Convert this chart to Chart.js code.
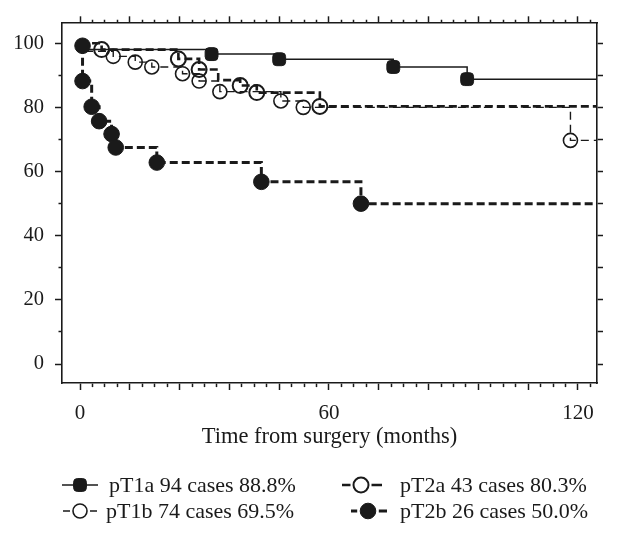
<!DOCTYPE html>
<html>
<head>
<meta charset="utf-8">
<script src="https://cdn.jsdelivr.net/npm/chart.js@4.4.1/dist/chart.umd.min.js"></script>
<style>
  html, body { margin: 0; padding: 0; background: #fff; }
  #wrap { width: 618px; height: 537px; }
</style>
</head>
<body>
<div id="wrap"><canvas id="km"></canvas></div>
<script>
// survival (%), time in months from surgery
// marks: 1 = a marker is drawn at that step
const pT1aMonths   = [0, 0.5, 31.7, 48.0, 75.5, 93.3, 124.6];
const pT1aSurvival = [100, 98.0, 96.6, 95.0, 92.6, 88.8, 88.8];
const pT1aMarks    = [0, 0, 1, 1, 1, 1, 0];

const pT1bMonths   = [0, 1.5, 8.0, 13.3, 17.3, 24.7, 28.7, 33.7, 48.4, 53.8, 118.2, 124.6];
const pT1bSurvival = [100, 97.5, 95.9, 94.1, 92.6, 90.5, 88.2, 84.9, 82.0, 80.0, 69.7, 69.7];
const pT1bMarks    = [0, 0, 1, 1, 1, 1, 1, 1, 1, 1, 1, 0];

const pT2aMonths   = [0, 5.2, 23.7, 28.7, 33.3, 38.6, 42.6, 57.8, 124.6];
const pT2aSurvival = [100, 98.0, 95.1, 91.8, 88.5, 86.8, 84.6, 80.3, 80.3];
const pT2aMarks    = [0, 1, 1, 1, 0, 1, 1, 1, 0];

const pT2bMonths   = [0.6, 0.6, 2.8, 4.6, 7.6, 8.6, 18.5, 43.7, 67.7, 124.6];
const pT2bSurvival = [99.2, 88.2, 80.2, 75.7, 71.7, 67.5, 62.8, 56.8, 50.0, 50.0];
const pT2bMarks    = [1, 1, 1, 1, 1, 1, 1, 1, 1, 0];

const seriesLabels = [
    "pT1a 94 cases 88.8%",
    "pT1b 74 cases 69.5%",
    "pT2a 43 cases 80.3%",
    "pT2b 26 cases 50.0%",
];

const xTickLabels = [0, 60, 120];
const xMajorStep = 12;
const xMinorStep = 3;
const yTickLabels = [0, 20, 40, 60, 80, 100];
const yMinorStep = 10;

const ink = "#1a1a1a";
const serif = '"Liberation Serif", "Times New Roman", serif';
const xRange = { min: -4.35, max: 124.6 };
const yRange = { min: -5.9, max: 106.2 };

function toPoints(months, survival) {
    return months.map((m, i) => ({ x: m, y: survival[i] }));
}

function markRadius(marks, size) {
    return (ctx) => (marks[ctx.dataIndex] ? size : 0);
}

function xTicks(scale) {
    const ticks = [];
    for (let v = 0; v <= xRange.max - 1; v += xMinorStep) ticks.push({ value: v });
    scale.ticks = ticks;
}

function yTicks(scale) {
    const ticks = [];
    for (let v = 0; v <= 100; v += yMinorStep) ticks.push({ value: v });
    scale.ticks = ticks;
}

const isXMajor = (ctx) => ctx.tick && ctx.tick.value % xMajorStep === 0;
const isYMajor = (ctx) => ctx.tick && yTickLabels.includes(ctx.tick.value);

// legend drawn by hand: short line with the marker, two columns
const legendSpots = [
    { ds: 0, y: 485, x0: 62, mx: 80, x1: 98, tx: 109 },
    { ds: 1, y: 511, x0: 63, mx: 80, x1: 97, tx: 106 },
    { ds: 2, y: 485, x0: 342, mx: 361, x1: 382, tx: 400 },
    { ds: 3, y: 511, x0: 351, mx: 368, x1: 387, tx: 400 },
];

const legendPlugin = {
    id: "kmLegend",
    afterDraw(chart) {
        const ctx = chart.ctx;
        ctx.save();
        legendSpots.forEach((spot) => {
            const ds = chart.data.datasets[spot.ds];
            ctx.strokeStyle = ink;
            ctx.lineWidth = ds.borderWidth;
            ctx.setLineDash([]);
            ctx.beginPath();
            if (ds.borderDash && ds.borderDash.length) {
                const gap = ds.markSize + 3;
                ctx.moveTo(spot.x0, spot.y);
                ctx.lineTo(spot.mx - gap, spot.y);
                ctx.moveTo(spot.mx + gap, spot.y);
                ctx.lineTo(spot.x1, spot.y);
            } else {
                ctx.moveTo(spot.x0, spot.y);
                ctx.lineTo(spot.x1, spot.y);
            }
            ctx.stroke();
            ctx.fillStyle = ds.pointBackgroundColor;
            ctx.strokeStyle = ink;
            ctx.lineWidth = ds.pointBorderWidth;
            Chart.helpers.drawPoint(ctx, {
                pointStyle: ds.pointStyle,
                radius: ds.markSize,
                borderWidth: ds.pointBorderWidth,
                rotation: 0,
            }, spot.mx, spot.y);

            ctx.fillStyle = ink;
            ctx.font = "22px " + serif;
            ctx.textAlign = "left";
            ctx.textBaseline = "middle";
            ctx.fillText(ds.label, spot.tx, spot.y + 1);
        });
        ctx.restore();
    },
};

const whiteBg = {
    id: "whiteBg",
    beforeDraw(chart) {
        const ctx = chart.ctx;
        ctx.save();
        ctx.fillStyle = "#fff";
        ctx.fillRect(0, 0, chart.width, chart.height);
        ctx.restore();
    },
};

const datasets = [
    {
        label: seriesLabels[0],
        data: toPoints(pT1aMonths, pT1aSurvival),
        borderColor: ink,
        borderWidth: 1.5,
        borderDash: [],
        pointStyle: "rectRounded",
        markSize: 7.5,
        pointRadius: markRadius(pT1aMarks, 7.5),
        pointBackgroundColor: ink,
        pointBorderColor: ink,
        pointBorderWidth: 1,
        order: 3,
    },
    {
        label: seriesLabels[1],
        data: toPoints(pT1bMonths, pT1bSurvival),
        borderColor: ink,
        borderWidth: 1.4,
        borderDash: [8, 5],
        pointStyle: "circle",
        markSize: 7,
        pointRadius: markRadius(pT1bMarks, 7),
        pointBackgroundColor: "rgba(0,0,0,0)",
        pointBorderColor: ink,
        pointBorderWidth: 1.6,
        order: 2,
    },
    {
        label: seriesLabels[2],
        data: toPoints(pT2aMonths, pT2aSurvival),
        borderColor: ink,
        borderWidth: 2.6,
        borderDash: [8, 4],
        pointStyle: "circle",
        markSize: 7.5,
        pointRadius: markRadius(pT2aMarks, 7.5),
        pointBackgroundColor: "rgba(0,0,0,0)",
        pointBorderColor: ink,
        pointBorderWidth: 2,
        order: 1,
    },
    {
        label: seriesLabels[3],
        data: toPoints(pT2bMonths, pT2bSurvival),
        borderColor: ink,
        borderWidth: 3,
        borderDash: [8, 4],
        pointStyle: "circle",
        markSize: 7.8,
        pointRadius: markRadius(pT2bMarks, 7.8),
        pointBackgroundColor: ink,
        pointBorderColor: ink,
        pointBorderWidth: 1,
        order: 0,
    },
];

datasets.forEach((ds) => {
    ds.stepped = "before";
    ds.fill = false;
    ds.pointHoverRadius = 0;
});

const axisBorder = { display: true, color: ink, width: 1.6 };

new Chart(document.getElementById("km"), {
    type: "line",
    data: { datasets: datasets },
    plugins: [whiteBg, legendPlugin],
    options: {
        responsive: true,
        maintainAspectRatio: false,
        animation: false,
        layout: { padding: { left: 0, right: 0, top: 0, bottom: 84 } },
        plugins: { legend: { display: false }, tooltip: { enabled: false } },
        scales: {
            x: {
                type: "linear",
                position: "bottom",
                min: xRange.min,
                max: xRange.max,
                afterBuildTicks: xTicks,
                afterFit: (s) => { s.height = 70; },
                border: axisBorder,
                grid: {
                    drawOnChartArea: false,
                    tickLength: 7,
                    tickWidth: 1.5,
                    tickColor: ink,
                    tickBorderDash: (ctx) => (isXMajor(ctx) ? [] : [3.5, 20]),
                },
                ticks: {
                    autoSkip: false,
                    maxRotation: 0,
                    padding: 11,
                    color: ink,
                    font: { family: serif, size: 21 },
                    callback: (v) => (xTickLabels.includes(v) ? String(v) : ""),
                },
                title: {
                    display: true,
                    text: "Time from surgery (months)",
                    color: ink,
                    font: { family: serif, size: 22.5 },
                    padding: { top: 0, bottom: 2 },
                },
            },
            xTop: {
                type: "linear",
                position: "top",
                min: xRange.min,
                max: xRange.max,
                afterBuildTicks: xTicks,
                afterFit: (s) => { s.height = 20; },
                border: axisBorder,
                grid: {
                    drawOnChartArea: false,
                    tickLength: 7,
                    tickWidth: 1.5,
                    tickColor: ink,
                    tickBorderDash: (ctx) => (isXMajor(ctx) ? [] : [0, 3.5, 3.5, 20]),
                },
                ticks: { display: false },
            },
            y: {
                type: "linear",
                position: "left",
                min: yRange.min,
                max: yRange.max,
                afterBuildTicks: yTicks,
                afterFit: (s) => { s.width = 62; },
                border: axisBorder,
                grid: {
                    drawOnChartArea: false,
                    tickLength: 7,
                    tickWidth: 1.5,
                    tickColor: ink,
                    tickBorderDash: (ctx) => (isYMajor(ctx) ? [] : [0, 3.5, 3.5, 20]),
                },
                ticks: {
                    autoSkip: false,
                    padding: 11,
                    color: ink,
                    font: { family: serif, size: 20.5 },
                    callback: (v) => (yTickLabels.includes(v) ? String(v) : ""),
                },
            },
            yRight: {
                type: "linear",
                position: "right",
                min: yRange.min,
                max: yRange.max,
                afterBuildTicks: yTicks,
                afterFit: (s) => { s.width = 21; },
                border: axisBorder,
                grid: {
                    drawOnChartArea: false,
                    tickLength: 6,
                    tickWidth: 1.5,
                    tickColor: ink,
                },
                ticks: { display: false },
            },
        },
    },
});
</script>
</body>
</html>
